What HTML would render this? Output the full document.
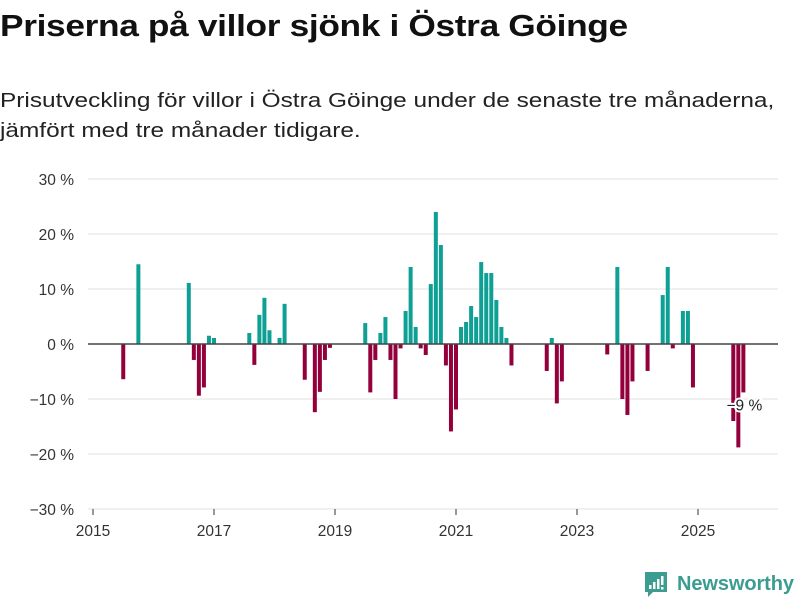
<!DOCTYPE html>
<html><head><meta charset="utf-8"><style>
body{margin:0;background:#fff;width:800px;height:600px;overflow:hidden;font-family:"Liberation Sans",sans-serif;}
#title{position:absolute;left:0;top:8px;font-size:31px;font-weight:bold;color:#111;margin:0;letter-spacing:-0.3px;transform:scaleX(1.138);transform-origin:0 0;white-space:nowrap}
#sub{position:absolute;left:0;top:86px;font-size:20.5px;color:#222;line-height:30px;white-space:nowrap;transform:scaleX(1.19);transform-origin:0 0}
svg{position:absolute;left:0;top:0}
</style></head><body>
<h1 id="title">Priserna på villor sjönk i Östra Göinge</h1>
<div id="sub">Prisutveckling för villor i Östra Göinge under de senaste tre månaderna,<br>jämfört med tre månader tidigare.</div>
<svg id="chart" width="800" height="600"></svg>
<svg width="800" height="600" style="pointer-events:none">
<g>
<path d="M645 572 h22 v20 h-14 l-5 5 v-5 h-3 z" fill="#3a9d8f"/>
<rect x="649" y="585" width="2.5" height="4" fill="#fff"/><rect x="653" y="582" width="2.5" height="7" fill="#fff"/><rect x="657" y="579" width="2.5" height="10" fill="#fff"/><rect x="661" y="576" width="2.5" height="9" fill="#fff"/><rect x="661" y="587" width="2.5" height="2.5" fill="#fff"/>
<text x="677" y="590" font-size="20" font-weight="bold" fill="#3a9d8f" font-family="Liberation Sans, sans-serif" textLength="117">Newsworthy</text>
</g></svg>
<script>
const months=["2015-06","2015-09","2016-07","2016-08","2016-09","2016-10","2016-11","2016-12","2017-07","2017-08","2017-09","2017-10","2017-11","2018-01","2018-02","2018-06","2018-08","2018-09","2018-10","2018-11","2019-06","2019-07","2019-08","2019-09","2019-10","2019-11","2019-12","2020-01","2020-02","2020-03","2020-04","2020-05","2020-06","2020-07","2020-08","2020-09","2020-10","2020-11","2020-12","2021-01","2021-02","2021-03","2021-04","2021-05","2021-06","2021-07","2021-08","2021-09","2021-10","2021-11","2022-06","2022-07","2022-08","2022-09","2023-06","2023-08","2023-09","2023-10","2023-11","2024-02","2024-05","2024-06","2024-07","2024-09","2024-10","2024-11","2025-07","2025-08","2025-09"];
const values=[-6.4,14.5,11.1,-2.9,-9.4,-7.9,1.5,1.1,2.0,-3.8,5.3,8.4,2.5,1.1,7.3,-6.5,-12.4,-8.7,-2.9,-0.7,3.8,-8.8,-2.9,2.0,4.9,-2.9,-10.0,-0.8,6.0,14.0,3.1,-0.8,-2.0,10.9,24.0,18.0,-3.9,-15.9,-11.9,3.1,4.0,6.9,4.9,14.9,12.9,12.9,8.0,3.1,1.1,-3.9,-4.9,1.1,-10.8,-6.8,-1.9,14.0,-10.0,-12.9,-6.8,-4.9,8.9,14.0,-0.8,6.0,6.0,-7.9,-14.0,-18.8,-8.8];
const yTicks=[30,20,10,0,-10,-20,-30];
const xTicks=[2015,2017,2019,2021,2023,2025];
const lastLabel="−9 %";
const NS="http://www.w3.org/2000/svg",svg=document.getElementById('chart');
const y=v=>344-v*5.5;
const x=t=>93+(t-2015)*60.5;
const mx=m=>{const[a,b]=m.split('-').map(Number);return x(a+b/12);};
function mk(tag,at,p){const e=document.createElementNS(NS,tag);for(const k in at)e.setAttribute(k,at[k]);(p||svg).appendChild(e);return e;}
yTicks.forEach(v=>{
 const g=mk('line',{x1:88,x2:778,y1:y(v),y2:y(v),stroke:'#e2e2e2','stroke-width':1});
 
 
 const t=mk('text',{x:74,y:y(v)+6,'text-anchor':'end','font-size':15.5,fill:'#333'});
 t.textContent=(v<0?'−'+(-v):v)+' %';
 
 
});
xTicks.forEach(yr=>{
 const l=mk('line',{x1:x(yr),x2:x(yr),y1:509,y2:515,stroke:'#333'});
 
 
 const t=mk('text',{x:x(yr),y:536,'text-anchor':'middle','font-size':15.5,fill:'#333'});
 t.textContent=yr;
 
 
});
months.forEach((m,i)=>{
 const v=values[i],c=mx(m);
 const r=mk('rect',{x:c-2,width:4,y:Math.min(y(v),y(0)),height:Math.abs(y(v)-y(0)),fill:v>=0?'#0ea094':'#94003c'});
 
 
});
const z=mk('line',{x1:88,x2:778,y1:y(0),y2:y(0),stroke:'#444','stroke-width':1.5});


const lm=months[months.length-1];
const lb=mk('text',{x:mx(lm)+1,y:y(values[values.length-1])+18,'text-anchor':'middle','font-size':15.5,fill:'#222',stroke:'#fff','stroke-width':4,'paint-order':'stroke'});
lb.textContent=lastLabel;


</script>
</body></html>
